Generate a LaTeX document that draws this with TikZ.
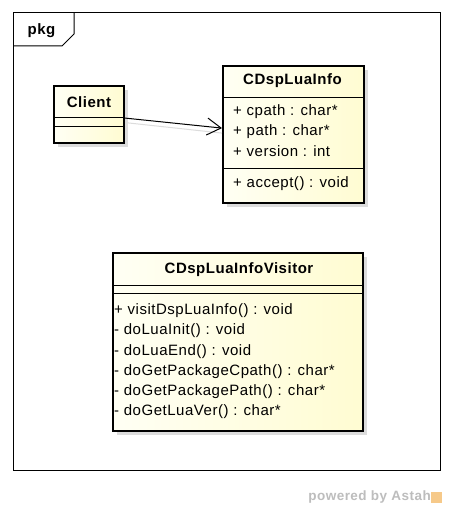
\documentclass[tikz,border=0pt]{standalone}
\usepackage{fontspec}
\setmainfont{Liberation Sans}[LetterSpace=3.5]
\usetikzlibrary{arrows.meta,positioning}
\definecolor{clsLo}{HTML}{FFFFF4}
\definecolor{clsHi}{HTML}{FFFCD2}
\definecolor{shdw}{HTML}{DCDCDC}
\definecolor{wmark}{HTML}{BDBDBD}
\definecolor{logoOrg}{HTML}{F4BC6C}

\begin{document}
\begin{tikzpicture}[x=1pt,y=-1pt,
  cls/.style={draw=black, line width=2.2pt, left color=clsLo, right color=clsHi, anchor=north west, inner sep=0pt},
  shade box/.style={fill=shdw, anchor=north west, inner sep=0pt},
  sep/.style={line width=0.8pt},
  cname/.style={font=\fontsize{15}{17}\selectfont\bfseries, inner sep=0pt},
  member/.style={anchor=west, font=\fontsize{15}{17}\selectfont, inner sep=0pt, text height=11pt, text depth=3.2pt},
]
\useasboundingbox[fill=white] (0,0) rectangle (453,510);
% ---- package frame ----
\draw[line width=1pt] (13,13) rectangle (440,470);
\draw[line width=1pt] (13,46) -- (62,46) -- (74,34) -- (74,13);
\node[cname] (pkg) at (41.5,31) {pkg};
% ---- shadows ----
\node[shade box, minimum width=70pt, minimum height=57pt] at (58,90) {};
\node[shade box, minimum width=141pt, minimum height=137pt] at (227,70) {};
\node[shade box, minimum width=250pt, minimum height=178pt] at (117,257) {};
% ---- classes ----
\node[cls, minimum width=70pt, minimum height=57pt] (client) at (53,85) {};
\node[cls, minimum width=141pt, minimum height=137pt] (info) at (222,65) {};
\node[cls, minimum width=250pt, minimum height=178pt] (visitor) at (112,252) {};
% Client
\node[cname] (clientName) at (89,102) {Client};
\draw[sep] (client.west |- 0,117) -- (client.east |- 0,117);
\draw[sep] (client.west |- 0,126) -- (client.east |- 0,126);
% CDspLuaInfo
\node[cname] (infoName) at (292.5,81) {CDspLuaInfo};
\draw[sep] (info.west |- 0,97) -- (info.east |- 0,97);
\node[member] (a1) at (233,112) {+ cpath : char*};
\node[member] (a2) at (233,132) {+ path : char*};
\node[member] (a3) at (233,153) {+ version : int};
\draw[sep] (info.west |- 0,168) -- (info.east |- 0,168);
\node[member] (o1) at (233,184) {+ accept() : void};
% CDspLuaInfoVisitor
\node[cname] (visitorName) at (239,270) {CDspLuaInfoVisitor};
\draw[sep] (visitor.west |- 0,285) -- (visitor.east |- 0,285);
\draw[sep] (visitor.west |- 0,293) -- (visitor.east |- 0,293);
\node[member] (v1) at (114,311) {+ visitDspLuaInfo() : void};
\node[member] (v2) at (114,331) {- doLuaInit() : void};
\node[member] (v3) at (114,352) {- doLuaEnd() : void};
\node[member] (v4) at (114,372) {- doGetPackageCpath() : char*};
\node[member] (v5) at (114,392) {- doGetPackagePath() : char*};
\node[member] (v6) at (114,412) {- doGetLuaVer() : char*};
% ---- association ----
\draw[shdw, line width=1pt] ([yshift=-8pt]client.east) -- ([yshift=1.5pt]info.west);
\draw[line width=1pt, -{Straight Barb[length=14pt,width=17pt]}] ([yshift=-3.5pt]client.east) -- ([yshift=6.5pt]info.west);
% ---- watermark ----
\node[anchor=east, text=wmark, font=\fontsize{13.5}{15}\selectfont\bfseries, inner sep=0pt] (wm) at (431,497) {powered by Astah};
\node[fill=logoOrg, opacity=0.8, minimum size=11pt, inner sep=0pt, right=0pt of wm] (logo) {};
\end{tikzpicture}
\end{document}
